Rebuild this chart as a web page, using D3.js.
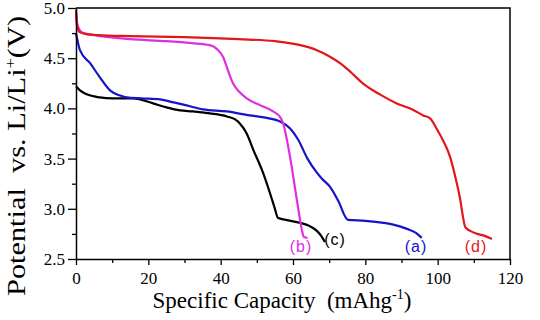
<!DOCTYPE html>
<html>
<head>
<meta charset="utf-8">
<script src="https://cdn.jsdelivr.net/npm/d3@7"></script>
<style>
  body { margin: 0; background: #fff; }
  svg { display: block; }
</style>
</head>
<body>
<script>
// discharge curves, capacity (mAh/g) vs potential (V)
const capA = [0, 1.1, 3.9, 6.6, 9.4, 12, 14, 18, 23.2, 27, 30.6, 35.1, 41.7, 48, 52, 56.4, 59.2, 61.4, 64, 66.6, 68, 70.2, 72.5, 75.2, 80, 85, 88, 91.5, 94, 95.6];
const voltA = [4.75, 4.58, 4.45, 4.31, 4.18, 4.13, 4.11, 4.10, 4.09, 4.06, 4.03, 3.99, 3.97, 3.93, 3.91, 3.87, 3.80, 3.69, 3.50, 3.36, 3.30, 3.22, 3.08, 2.89, 2.88, 2.86, 2.84, 2.80, 2.76, 2.71];

const capB = [0, 0.3, 1, 2, 5, 15, 25, 32, 37, 39, 40.7, 42, 43.4, 45, 47.2, 51, 54.5, 56.5, 57.3, 58.3, 59.5, 60.8, 62, 62.5, 63, 64];
const voltB = [4.95, 4.85, 4.78, 4.75, 4.73, 4.69, 4.67, 4.65, 4.63, 4.59, 4.51, 4.38, 4.25, 4.17, 4.10, 4.03, 3.97, 3.91, 3.85, 3.69, 3.45, 3.15, 2.88, 2.78, 2.72, 2.71];

const capC = [0, 1.1, 3, 6.6, 10, 15.8, 21.3, 25, 28.8, 32.3, 37, 41.7, 44, 45.3, 47.2, 49, 51.7, 53.6, 55, 55.8, 58, 62, 64.5, 66.6, 67.8, 68.8];
const voltC = [4.22, 4.18, 4.14, 4.11, 4.10, 4.10, 4.05, 4.01, 3.98, 3.97, 3.95, 3.92, 3.89, 3.85, 3.75, 3.59, 3.36, 3.16, 3.00, 2.91, 2.89, 2.86, 2.83, 2.78, 2.73, 2.67];

const capD = [0, 0.3, 1, 3, 6, 15, 30, 45, 55, 62, 66.6, 70, 73, 76, 79.3, 84, 88.7, 93, 96, 97.9, 100, 101.5, 103.4, 105, 106.2, 107, 107.6, 109, 111, 113, 115];
const voltD = [4.98, 4.82, 4.76, 4.74, 4.73, 4.72, 4.71, 4.69, 4.67, 4.63, 4.58, 4.52, 4.45, 4.36, 4.25, 4.14, 4.05, 3.99, 3.93, 3.90, 3.78, 3.68, 3.52, 3.30, 3.10, 2.92, 2.82, 2.78, 2.75, 2.73, 2.70];

const labelNames = ["(a)", "(b)", "(c)", "(d)"];
const labelCap = [94, 62.2, 71.6, 110.6];
const labelVolt = [2.57, 2.57, 2.64, 2.57];

const xTicks = [0, 20, 40, 60, 80, 100, 120];
const yTicks = [2.5, 3.0, 3.5, 4.0, 4.5, 5.0];

const width = 540, height = 320;
const margin = { top: 8, right: 30, bottom: 61, left: 76 };
const serif = "Liberation Serif";

const x = d3.scaleLinear().domain([0, 120]).range([margin.left, width - margin.right]);
const y = d3.scaleLinear().domain([2.5, 5]).range([height - margin.bottom, margin.top]);

const svg = d3.select("body").append("svg")
  .attr("width", width)
  .attr("height", height);

const series = [
  { cap: capC, volt: voltC, color: "#000000" },
  { cap: capA, volt: voltA, color: "#1414c8" },
  { cap: capB, volt: voltB, color: "#e02ee0" },
  { cap: capD, volt: voltD, color: "#e3161c" }
];

const line = d3.line()
  .x(d => x(d[0]))
  .y(d => y(d[1]))
  .curve(d3.curveMonotoneX);

series.forEach(s => {
  svg.append("path")
    .datum(s.cap.map((c, i) => [c, s.volt[i]]))
    .attr("fill", "none")
    .attr("stroke", s.color)
    .attr("stroke-width", 2.2)
    .attr("stroke-linejoin", "round")
    .attr("d", line);
});

// frame (top and right)
svg.append("path")
  .attr("d", `M${x(0)},${y(5)}H${x(120)}V${y(2.5)}`)
  .attr("fill", "none")
  .attr("stroke", "#000")
  .attr("stroke-width", 1.5);

// minor ticks
svg.append("g")
  .attr("transform", `translate(0,${y(2.5)})`)
  .call(d3.axisBottom(x).tickValues(d3.range(10, 120, 20)).tickSize(4).tickFormat(""))
  .call(g => g.select(".domain").remove())
  .selectAll("line").attr("stroke-width", 1.3);

svg.append("g")
  .attr("transform", `translate(${x(0)},0)`)
  .call(d3.axisLeft(y).tickValues(d3.range(2.75, 5, 0.5)).tickSize(4).tickFormat(""))
  .call(g => g.select(".domain").remove())
  .selectAll("line").attr("stroke-width", 1.3);

// major axes
svg.append("g")
  .attr("transform", `translate(0,${y(2.5)})`)
  .call(d3.axisBottom(x).tickValues(xTicks).tickSize(6).tickPadding(7).tickSizeOuter(0))
  .call(g => g.select(".domain").attr("stroke-width", 1.5))
  .call(g => g.selectAll("line").attr("stroke-width", 1.3))
  .call(g => g.selectAll("text").style("font-family", serif).style("font-size", "17px"));

svg.append("g")
  .attr("transform", `translate(${x(0)},0)`)
  .call(d3.axisLeft(y).tickValues(yTicks).tickFormat(d3.format(".1f")).tickSize(8).tickPadding(3).tickSizeOuter(0))
  .call(g => g.select(".domain").attr("stroke-width", 1.5))
  .call(g => g.selectAll("line").attr("stroke-width", 1.3))
  .call(g => g.selectAll("text").style("font-family", serif).style("font-size", "17px"));

// curve labels
svg.selectAll("text.lab")
  .data(labelNames)
  .enter()
  .append("text")
  .attr("class", "lab")
  .attr("x", (d, i) => x(labelCap[i]))
  .attr("y", (d, i) => y(labelVolt[i]))
  .attr("text-anchor", "middle")
  .style("font-family", "Liberation Sans")
  .style("font-size", "16px")
  .attr("letter-spacing", 1)
  .attr("fill", (d, i) => ["#1414c8", "#e02ee0", "#000000", "#e3161c"][i])
  .text(d => d);

// axis titles
const xt = svg.append("text")
  .attr("x", 282)
  .attr("y", 308)
  .attr("text-anchor", "middle")
  .style("font-family", serif)
  .style("font-size", "23px")
  .style("white-space", "pre");
xt.append("tspan").text("Specific Capacity  (mAhg");
xt.append("tspan").attr("dy", -9).style("font-size", "14px").text("-1");
xt.append("tspan").attr("dy", 9).text(")");

const yt = svg.append("text")
  .attr("transform", "translate(25,156) rotate(-90)")
  .attr("text-anchor", "middle")
  .style("font-family", serif)
  .style("font-size", "25px")
  .attr("textLength", 280)
  .attr("lengthAdjust", "spacingAndGlyphs")
  .style("white-space", "pre");
yt.append("tspan").text("Potential  vs. Li/Li");
yt.append("tspan").attr("dy", -10).style("font-size", "15px").text("+");
yt.append("tspan").attr("dy", 10).text("(V)");
</script>
</body>
</html>
